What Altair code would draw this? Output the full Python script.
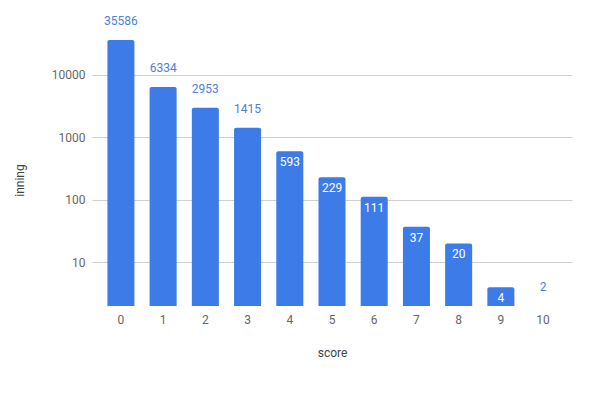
import altair as alt
import pandas as pd

scores = ["0", "1", "2", "3", "4", "5", "6", "7", "8", "9", "10"]
innings = [35586, 6334, 2953, 1415, 593, 229, 111, 37, 20, 4, 2]

df = pd.DataFrame({"score": scores, "inning": innings})

FONT = "Roboto"
BLUE = "#3d7ce8"

x = alt.X("score:N", sort=scores, title="score",
          scale=alt.Scale(paddingInner=0.36, paddingOuter=0.365),
          axis=alt.Axis(labelAngle=0, ticks=False, domain=False, labelPadding=8,
                        labelFontSize=12, labelColor="#666", labelFont=FONT,
                        titleFont=FONT, titleFontSize=12, titleFontWeight="normal",
                        titleColor="#444", titlePadding=22))
y = alt.Y("inning:Q", title="inning", stack=None,
          scale=alt.Scale(type="log", domain=[2, 100000], nice=False),
          axis=alt.Axis(values=[10, 100, 1000, 10000], format="d", ticks=False, domain=False,
                        labelPadding=7, labelFontSize=12, labelColor="#666", labelFont=FONT,
                        gridColor="#d0d0d0", titleFont=FONT, titleFontSize=12,
                        titleFontWeight="normal", titleColor="#444",
                        titleX=-66, titleY=168, titleAngle=-90))

base = alt.Chart(df).encode(x=x, y=y)

bars = base.mark_bar(color=BLUE, cornerRadiusTopLeft=2, cornerRadiusTopRight=2).encode(
    y2=alt.Y2(datum=2))

lab = base.transform_calculate(inside="datum.inning < 1000 && datum.inning > 3")

outside = lab.transform_filter("!datum.inside").mark_text(
    font=FONT, fontSize=12, color="#4a80dc", baseline="middle", dy=-19
).encode(text="inning:Q")

inside = lab.transform_filter("datum.inside").mark_text(
    font=FONT, fontSize=12, color="white", baseline="middle", dy=11
).encode(text="inning:Q")

chart = (bars + outside + inside).properties(
    width=480, height=294,
    background="white",
    autosize=alt.AutoSizeParams(type="none"),
    padding={"left": 92, "top": 12, "right": 18, "bottom": 87},
).configure_view(stroke=None)

chart.save("out.html", embed_options={"renderer": "svg", "actions": False})
